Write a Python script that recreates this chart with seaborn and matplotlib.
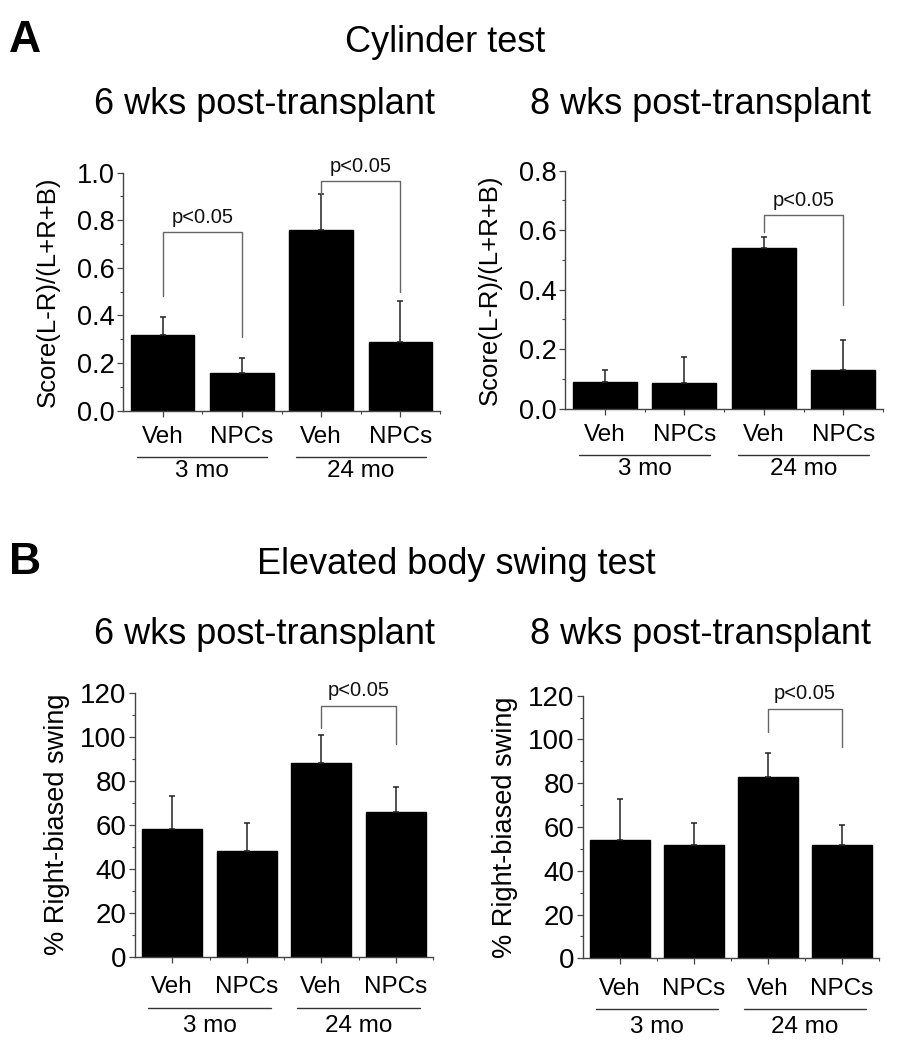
import numpy as np
import pandas as pd
import seaborn as sns
import matplotlib.pyplot as plt
from matplotlib.ticker import MultipleLocator, FormatStrFormatter

# ---- data ----
groups = ['3 mo', '3 mo', '24 mo', '24 mo']
treatments = ['Veh', 'NPCs', 'Veh', 'NPCs']

cyl_6wk = [0.32, 0.16, 0.76, 0.29]
cyl_6wk_err = [0.075, 0.06, 0.15, 0.17]
cyl_8wk = [0.09, 0.087, 0.54, 0.13]
cyl_8wk_err = [0.04, 0.088, 0.038, 0.10]

ebst_6wk = [58, 48, 88, 66]
ebst_6wk_err = [15, 13, 13, 11]
ebst_8wk = [54, 52, 83, 52]
ebst_8wk_err = [19, 10, 11, 9]

# significance brackets: (bar a, bar b, top, left leg end, right leg end)
cyl_6wk_sig = [(0, 1, 0.75, 0.48, 0.31), (2, 3, 0.965, 0.91, 0.50)]
cyl_8wk_sig = [(2, 3, 0.651, 0.595, 0.349)]
ebst_6wk_sig = [(2, 3, 114, 104, 96.7)]
ebst_8wk_sig = [(2, 3, 114, 103.5, 96.7)]

W, H = 900, 1050

sns.set_theme(style='ticks')
plt.rcParams['font.family'] = ['Liberation Sans', 'DejaVu Sans']
plt.rcParams['text.color'] = 'black'
plt.rcParams['axes.labelcolor'] = 'black'

fig = plt.figure(figsize=(W / 100, H / 100), dpi=100)


def px_axes(left, top, right, bottom):
    return fig.add_axes([left / W, 1 - bottom / H, (right - left) / W, (bottom - top) / H])


def draw_panel(ax, vals, errs, sig, ymax, step, fmt, ylabel, ylab_px, tick_fs,
               ylab_fs, lab_pad, line_px, grp_px):
    order = [f'{g} {t}' for g, t in zip(groups, treatments)]
    df = pd.DataFrame({'cond': order, 'value': vals})
    sns.barplot(data=df, x='cond', y='value', order=order, color='black',
                saturation=1, width=0.8, errorbar=None, edgecolor='black', ax=ax)
    xs = np.arange(len(vals))
    ax.errorbar(xs, vals, yerr=[np.zeros(len(errs)), errs], fmt='none',
                ecolor='#222222', elinewidth=1.1, capsize=2.5, capthick=1.1)

    ax.set_xlim(-0.5, 3.5)
    ax.set_ylim(0, ymax)
    ax.yaxis.set_major_locator(MultipleLocator(step))
    ax.yaxis.set_minor_locator(MultipleLocator(step / 2))
    ax.yaxis.set_major_formatter(FormatStrFormatter(fmt))
    ax.set_xticks(xs)
    ax.set_xticks([0.5, 1.5, 2.5, 3.5], minor=True)
    ax.set_xticklabels(treatments)
    ax.set_xlabel('')

    sns.despine(ax=ax)
    for side in ['left', 'bottom']:
        ax.spines[side].set_color('#444444')
        ax.spines[side].set_linewidth(1.0)
    ax.tick_params(axis='y', which='major', direction='out', length=4, width=0.9,
                   color='#444444', labelsize=tick_fs, pad=2, labelcolor='black')
    ax.tick_params(axis='y', which='minor', direction='out', length=2.5, width=0.8,
                   color='#444444')
    ax.tick_params(axis='x', which='major', direction='out', length=4, width=0.9,
                   color='#444444', labelsize=17.5, pad=lab_pad, labelcolor='black')
    ax.tick_params(axis='x', which='minor', direction='out', length=2.5, width=0.8,
                   color='#444444')

    ax.set_ylabel(ylabel, fontsize=ylab_fs, color='black')
    ax_w = ax.get_position().width * W
    ax_h = ax.get_position().height * H
    ax.yaxis.set_label_coords(ylab_px / ax_w, 0.5)
    ax.yaxis.label.set_va('center')

    # group underline and label below the tick labels
    tr = ax.get_xaxis_transform()
    for (a, b), name in zip([(0, 1), (2, 3)], ['3 mo', '24 mo']):
        ax.plot([a - 0.32, b + 0.32], [-line_px / ax_h] * 2, color='#333333',
                lw=1.0, transform=tr, clip_on=False)
        ax.text((a + b) / 2, -grp_px / ax_h, name, transform=tr, ha='center',
                va='center', fontsize=17.5, color='black')

    # significance brackets
    for a, b, top, la, lb in sig:
        ax.plot([a, a, b, b], [la, top, top, lb], color='#666666', lw=1.0,
                clip_on=False)
        ax.text((a + b) / 2, top + ymax * 0.022, 'p<0.05', ha='center',
                va='bottom', fontsize=14.5, color='#111111')


ax1 = px_axes(123, 172.7, 440, 410.7)
draw_panel(ax1, cyl_6wk, cyl_6wk_err, cyl_6wk_sig, 1.0, 0.2, '%.1f',
           'Score(L-R)/(L+R+B)', 48 - 123, 19.5, 18.5, 7, 46, 60)

ax2 = px_axes(565, 170.7, 883, 408.7)
draw_panel(ax2, cyl_8wk, cyl_8wk_err, cyl_8wk_sig, 0.8, 0.2, '%.1f',
           'Score(L-R)/(L+R+B)', 490 - 565, 19.5, 18.5, 7, 46, 60)

ax3 = px_axes(135, 692.7, 433, 956.7)
draw_panel(ax3, ebst_6wk, ebst_6wk_err, ebst_6wk_sig, 120, 20, '%d',
           '% Right-biased swing', 57 - 135, 20, 19.5, 10, 51, 69)

ax4 = px_axes(583, 695.7, 879, 958.3)
draw_panel(ax4, ebst_8wk, ebst_8wk_err, ebst_8wk_sig, 120, 20, '%d',
           '% Right-biased swing', 505 - 583, 20, 19.5, 10, 51, 69)

# headings
fig.text(9 / W, 1 - 40 / H, 'A', ha='left', va='center', fontsize=32, weight='bold')
fig.text(445 / W, 1 - 42 / H, 'Cylinder test', ha='center', va='center', fontsize=26)
fig.text(265 / W, 1 - 104 / H, '6 wks post-transplant', ha='center', va='center', fontsize=26)
fig.text(701 / W, 1 - 104 / H, '8 wks post-transplant', ha='center', va='center', fontsize=26)

fig.text(9 / W, 1 - 563 / H, 'B', ha='left', va='center', fontsize=32, weight='bold')
fig.text(456 / W, 1 - 564 / H, 'Elevated body swing test', ha='center', va='center', fontsize=26)
fig.text(265 / W, 1 - 634 / H, '6 wks post-transplant', ha='center', va='center', fontsize=26)
fig.text(701 / W, 1 - 634 / H, '8 wks post-transplant', ha='center', va='center', fontsize=26)

plt.savefig('out.png', dpi=100, facecolor='white')
